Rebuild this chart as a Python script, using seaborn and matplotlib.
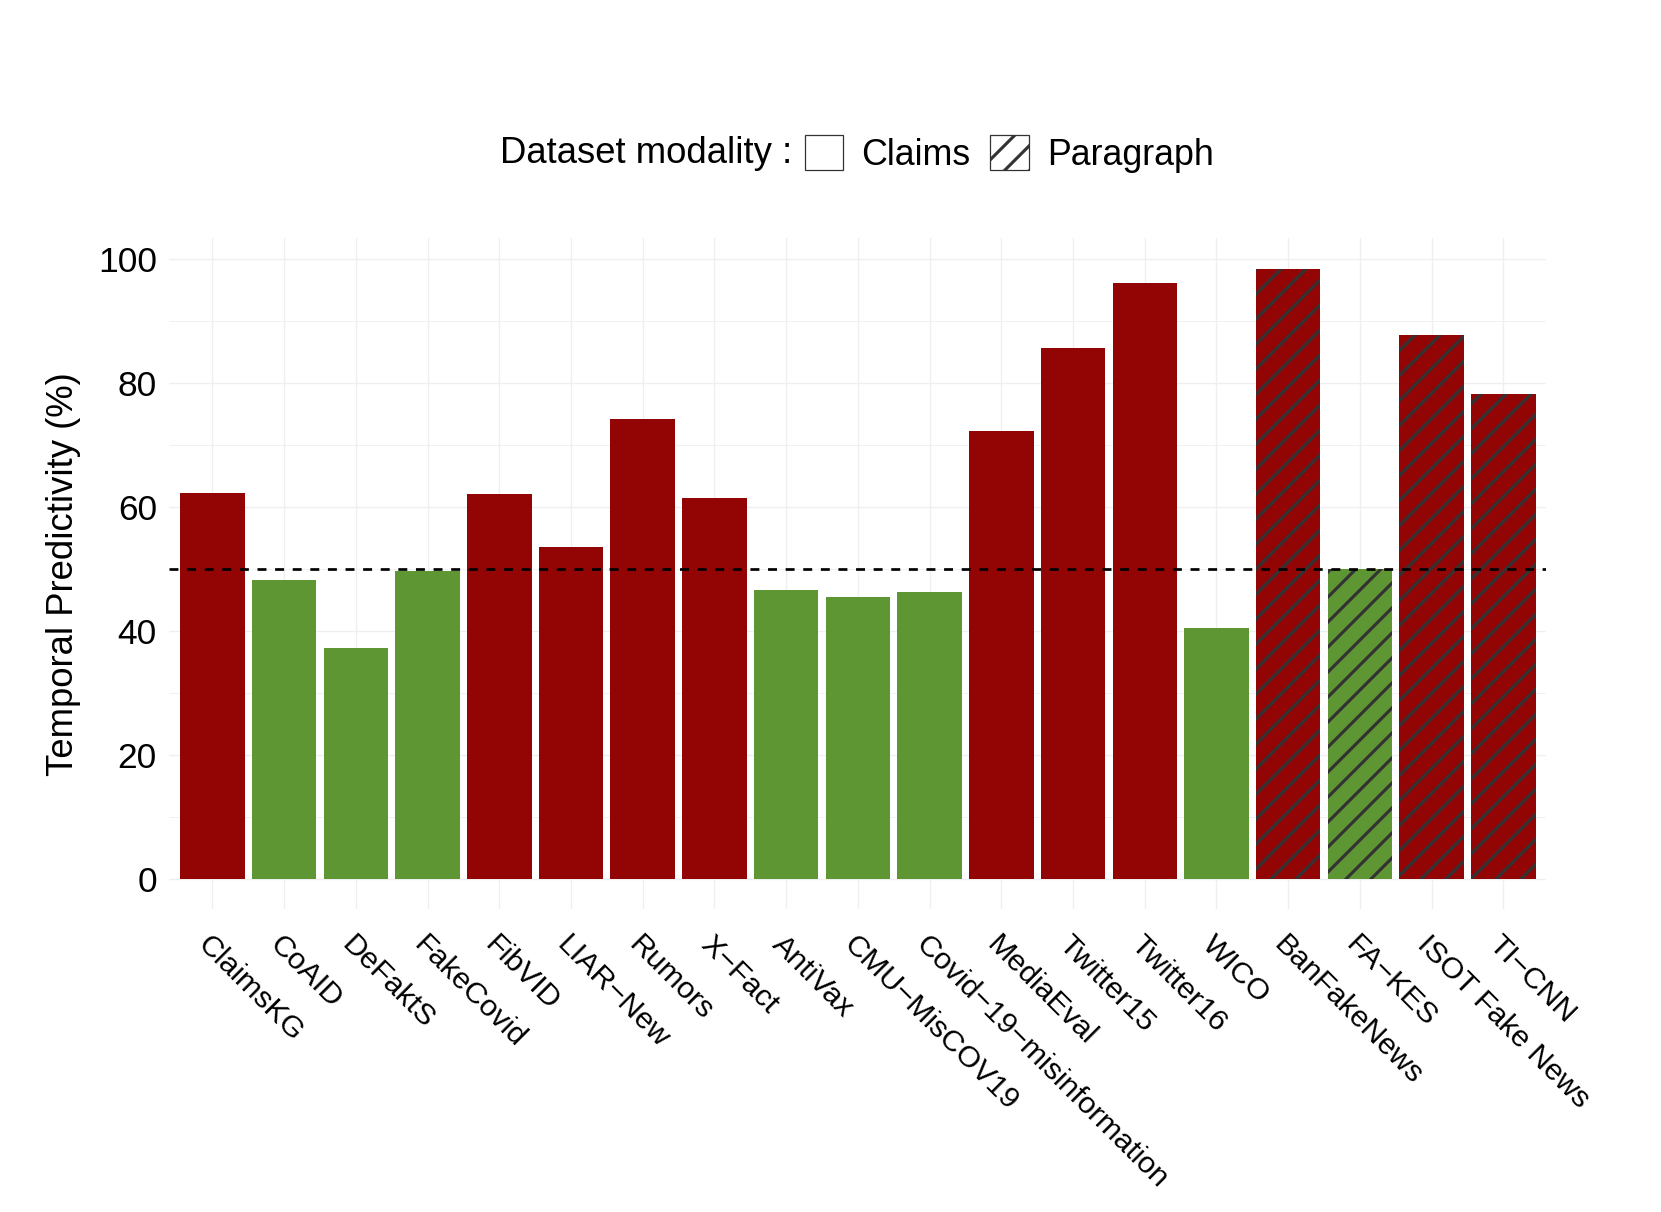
import numpy as np
import pandas as pd
import matplotlib
matplotlib.use("Agg")
import matplotlib.pyplot as plt
from matplotlib.patches import Patch
import seaborn as sns

# ---------------- data ----------------
datasets = [
    "ClaimsKG", "CoAID", "DeFaktS", "FakeCovid", "FibVID", "LIAR\u2212New",
    "Rumors", "X\u2212Fact", "AntiVax", "CMU\u2212MisCOV19",
    "Covid\u221219\u2212misinformation", "MediaEval", "Twitter15", "Twitter16",
    "WICO", "BanFakeNews", "FA\u2212KES", "ISOT Fake News", "TI\u2212CNN",
]
predictivity = [
    62.2, 48.1, 37.2, 49.7, 62.1, 53.5,
    74.1, 61.4, 46.6, 45.4,
    46.3, 72.2, 85.6, 96.0,
    40.5, 98.4, 49.9, 87.7, 78.1,
]
modality = ["Claims"] * 15 + ["Paragraph"] * 4

RED = "#930505"
GREEN = "#5f9634"
HATCH_COLOR = "#333333"
THRESHOLD = 50

df = pd.DataFrame({"dataset": datasets, "value": predictivity, "modality": modality})
df["above"] = np.where(df["value"] > THRESHOLD, "above", "below")

# ---------------- style ----------------
sns.set_theme(style="whitegrid")
plt.rcParams["font.family"] = ["Liberation Sans", "DejaVu Sans"]
plt.rcParams["hatch.linewidth"] = 1.5
for key in ["text.color", "axes.labelcolor", "xtick.color", "ytick.color"]:
    plt.rcParams[key] = "black"

fig, ax = plt.subplots(figsize=(1661 / 150, 1212 / 150), dpi=150)
fig.subplots_adjust(left=0.102, right=0.931, top=0.8036, bottom=0.2498)

sns.barplot(
    data=df, x="dataset", y="value", hue="above",
    palette={"above": RED, "below": GREEN},
    order=datasets, dodge=False, width=0.9, legend=False,
    linewidth=0, saturation=1, ax=ax,
)

# hatch the paragraph-level datasets
paragraph_idx = set(df.index[df["modality"] == "Paragraph"])
for p in ax.patches:
    i = int(round(p.get_x() + p.get_width() / 2))
    if i in paragraph_idx and p.get_height() > 0:
        p.set_hatch("//")
        p.set_edgecolor(HATCH_COLOR)
        p.set_linewidth(0)

ax.axhline(THRESHOLD, color="black", lw=1.3, ls=(0, (3.3, 3.2)), zorder=3)

ymax = df["value"].max()
ax.set_ylim(-0.05 * ymax, 1.05 * ymax)
ax.set_xlim(-0.6, len(datasets) - 0.4)

ax.set_yticks(range(0, 101, 20))
ax.set_yticks(range(10, 100, 20), minor=True)
ax.grid(True, which="major", axis="both", color="#efefef", lw=0.6)
ax.grid(True, which="minor", axis="y", color="#efefef", lw=0.4)
ax.set_axisbelow(True)
for s in ax.spines.values():
    s.set_visible(False)

ax.tick_params(axis="both", which="both", length=0)
ax.tick_params(axis="y", labelsize=17, pad=6)
ax.tick_params(axis="x", labelsize=14.6, pad=10)
for lab in ax.get_xticklabels():
    lab.set_rotation(-45)
    lab.set_ha("left")
    lab.set_va("top")
    lab.set_rotation_mode("anchor")

ax.set_xlabel("")
ax.set_ylabel("Temporal Predictivity (%)", fontsize=17.5, labelpad=8)

# legend: inline title + two boxes
fig.text(0.477, 0.873, "Dataset modality :", ha="right", va="center", fontsize=17.5)
handles = [
    Patch(facecolor="white", edgecolor=HATCH_COLOR, lw=0.6),
    Patch(facecolor="white", edgecolor=HATCH_COLOR, lw=0.6, hatch="//"),
]
fig.legend(
    handles, ["Claims", "Paragraph"], loc="center left",
    bbox_to_anchor=(0.4845, 0.873), ncol=2, frameon=False, fontsize=17.2,
    borderaxespad=0, borderpad=0, handlelength=1.08, handleheight=1.1,
    handletextpad=0.5, columnspacing=0.55,
)

fig.savefig("out.png", dpi=150)
